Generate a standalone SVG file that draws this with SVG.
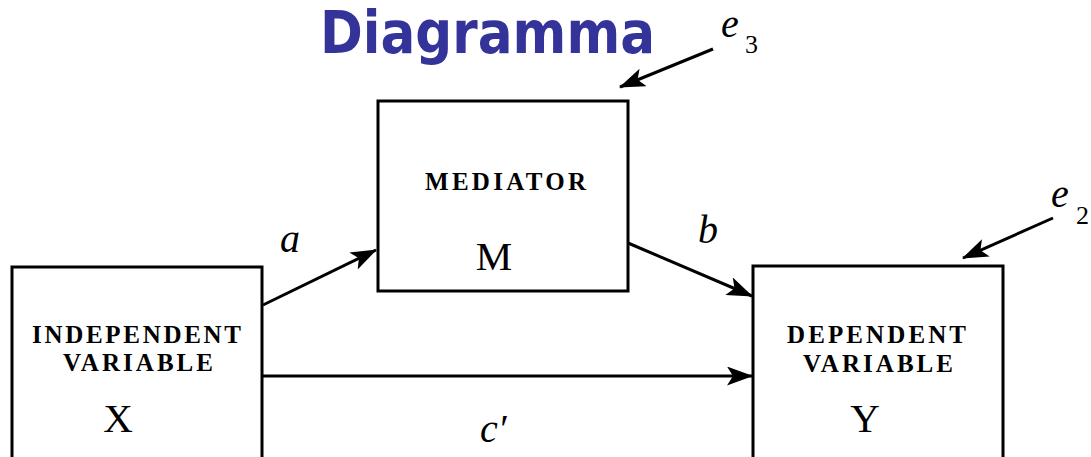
<svg xmlns="http://www.w3.org/2000/svg" width="1091" height="457" viewBox="0 0 1091 457">
<style>
.box{fill:#fff;stroke:#000;stroke-width:3}
.cap{font-family:"Liberation Serif","Times New Roman",serif;font-weight:bold;font-size:25px;fill:#000}
.big{font-family:"Liberation Serif","Times New Roman",serif;font-size:41px;fill:#000;text-anchor:middle}
.lab{font-family:"Liberation Serif","Times New Roman",serif;font-style:italic;font-size:40px;fill:#000}
.sub{font-family:"Liberation Serif","Times New Roman",serif;font-size:26px;fill:#000}
.con{stroke:#000;stroke-width:3;fill:none;marker-end:url(#ah)}
</style>
<defs>
<marker id="ah" viewBox="0 0 26 19" refX="25" refY="9.5" markerWidth="26" markerHeight="19" markerUnits="userSpaceOnUse" orient="auto">
<path d="M0,0 L26,9.5 L0,19 L6,9.5 Z" fill="#000"/>
</marker>
</defs>
<rect width="1091" height="457" fill="#fff"/>
<text x="320" y="53" font-family="DejaVu Sans, Verdana, sans-serif" font-weight="bold" font-size="58" fill="#333399" textLength="335" lengthAdjust="spacingAndGlyphs">Diagramma</text>
<g id="connectors">
<line class="con" x1="263" y1="305" x2="376" y2="250"/>
<line class="con" x1="628" y1="243" x2="752" y2="296"/>
<line class="con" x1="263" y1="376" x2="752" y2="376"/>
<line class="con" x1="713" y1="49" x2="620" y2="87"/>
<line class="con" x1="1053" y1="218" x2="963" y2="258"/>
<text class="lab" x="280" y="252">a</text>
<text class="lab" x="698" y="243">b</text>
<text class="lab" x="480" y="442">c′</text>
<text class="lab" x="721" y="37">e</text>
<text class="sub" x="745" y="53">3</text>
<text class="lab" x="1051" y="207">e</text>
<text class="sub" x="1076" y="224">2</text>
</g>
<g id="node-x">
<rect class="box" x="12" y="267" width="250" height="200"/>
<text class="cap" x="32" y="343" textLength="209" lengthAdjust="spacing">INDEPENDENT</text>
<text class="cap" x="63" y="371" textLength="150" lengthAdjust="spacing">VARIABLE</text>
<text class="big" x="118" y="432">X</text>
</g>
<g id="node-m">
<rect class="box" x="378" y="101" width="250" height="190"/>
<text class="cap" x="425" y="190" textLength="161" lengthAdjust="spacing">MEDIATOR</text>
<text class="big" x="494" y="270">M</text>
</g>
<g id="node-y">
<rect class="box" x="753" y="266" width="250" height="200"/>
<text class="cap" x="787" y="343" textLength="179" lengthAdjust="spacing">DEPENDENT</text>
<text class="cap" x="803" y="372" textLength="150" lengthAdjust="spacing">VARIABLE</text>
<text class="big" x="865" y="432">Y</text>
</g>
</svg>
